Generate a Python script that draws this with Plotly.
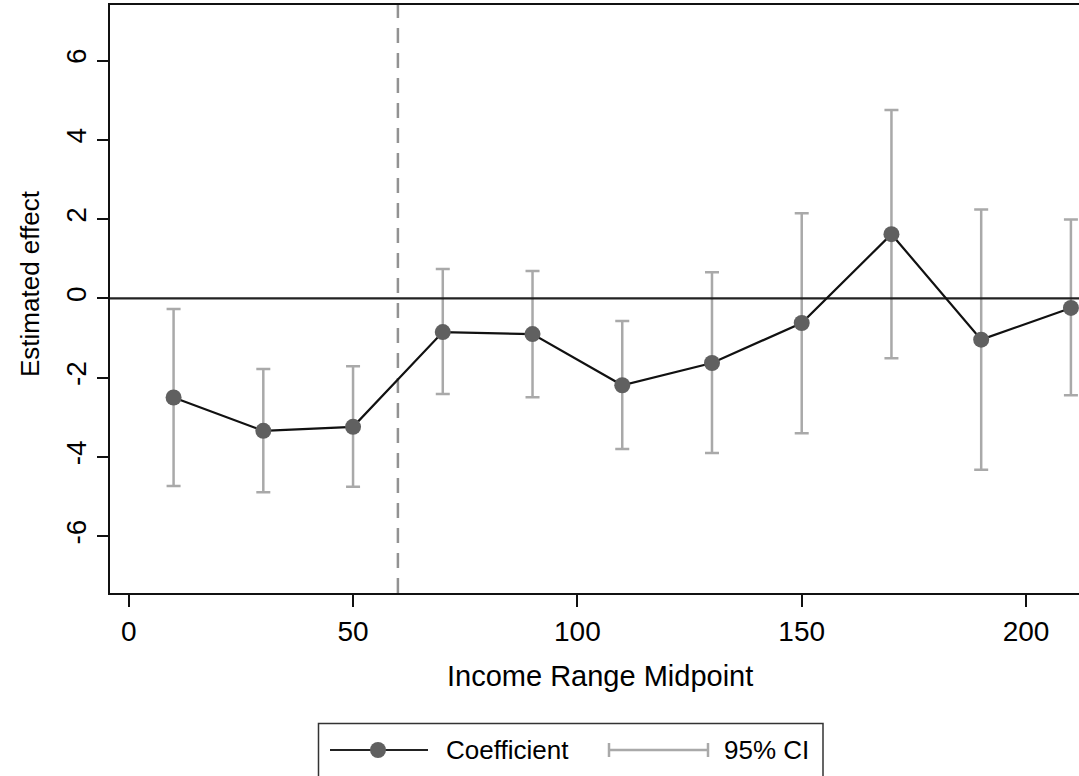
import plotly.graph_objects as go

# ---- data ----
midpoints = [10, 30, 50, 70, 90, 110, 130, 150, 170, 190, 210]
coef = [-2.50, -3.34, -3.24, -0.85, -0.90, -2.19, -1.63, -0.62, 1.62, -1.04, -0.24]
ci_low = [-4.73, -4.89, -4.75, -2.41, -2.49, -3.80, -3.90, -3.40, -1.51, -4.32, -2.44]
ci_high = [-0.27, -1.78, -1.71, 0.74, 0.69, -0.57, 0.66, 2.15, 4.75, 2.24, 1.99]
cutoff = 60
x_ticks = [0, 50, 100, 150, 200]
y_ticks = [-6, -4, -2, 0, 2, 4, 6]
y_tick_labels = ["-6", "-4", "-2", "0", "2", "4", "6"]
x_range = [-4.17, 211.8]
y_range = [-7.43, 7.40]

W, H = 1079, 776
L, T, R, B = 110, 5, 0, 183
pw, ph = W - L - R, H - T - B
FONT = "Liberation Sans, Arial, sans-serif"


def px(xp):
    return (xp - L) / pw


def py(yp):
    return (H - B - yp) / ph


fig = go.Figure()

# CI error bars
fig.add_trace(go.Scatter(
    x=midpoints, y=coef, mode="markers",
    marker=dict(size=1, color="rgba(0,0,0,0)"),
    error_y=dict(type="data", symmetric=False,
                 array=[h - c for h, c in zip(ci_high, coef)],
                 arrayminus=[c - l for c, l in zip(coef, ci_low)],
                 color="#a9a9a9", thickness=2.5, width=7),
    showlegend=False, hoverinfo="skip"))

# zero reference line
fig.add_trace(go.Scatter(x=x_range, y=[0, 0], mode="lines",
                         line=dict(color="#222222", width=2.2),
                         showlegend=False, hoverinfo="skip"))

# coefficients
fig.add_trace(go.Scatter(
    x=midpoints, y=coef, mode="lines+markers",
    line=dict(color="#111111", width=2.2),
    marker=dict(size=16, color="#606060"),
    showlegend=False, cliponaxis=True))

# dashed cutoff line
fig.add_shape(type="line", xref="x", yref="paper", x0=cutoff, x1=cutoff, y0=0, y1=1,
              line=dict(color="#929292", width=2.5, dash="15px,10px"), layer="below")

# ---- manual legend ----
ly = 750
fig.add_shape(type="rect", xref="paper", yref="paper",
              x0=px(318.5), x1=px(823), y0=py(723.5), y1=py(790),
              line=dict(color="#333333", width=1.5), fillcolor="white")
fig.add_shape(type="line", xref="paper", yref="paper",
              x0=px(330), x1=px(428), y0=py(ly), y1=py(ly),
              line=dict(color="#222222", width=2.2))
fig.add_shape(type="circle", xref="paper", yref="paper",
              x0=px(370), x1=px(386), y0=py(ly - 8), y1=py(ly + 8),
              line=dict(color="#606060", width=0), fillcolor="#606060")
fig.add_shape(type="line", xref="paper", yref="paper",
              x0=px(609), x1=px(708), y0=py(ly), y1=py(ly),
              line=dict(color="#a9a9a9", width=2.5))
for xc in (609, 708):
    fig.add_shape(type="line", xref="paper", yref="paper",
                  x0=px(xc), x1=px(xc), y0=py(ly - 7), y1=py(ly + 7),
                  line=dict(color="#a9a9a9", width=2.5))
fig.add_annotation(xref="paper", yref="paper", x=px(444), y=py(ly), text="Coefficient",
                   showarrow=False, xanchor="left", yanchor="middle",
                   font=dict(size=26, color="black", family=FONT))
fig.add_annotation(xref="paper", yref="paper", x=px(722), y=py(ly), text="95% CI",
                   showarrow=False, xanchor="left", yanchor="middle",
                   font=dict(size=26, color="black", family=FONT))

# axis titles
fig.add_annotation(xref="paper", yref="paper", x=px(600), y=py(676), text="Income Range Midpoint",
                   showarrow=False, xanchor="center", yanchor="middle",
                   font=dict(size=29, color="black", family=FONT))
fig.add_annotation(xref="paper", yref="paper", x=px(30), y=py(284), text="Estimated effect",
                   showarrow=False, xanchor="center", yanchor="middle", textangle=-90,
                   font=dict(size=26, color="black", family=FONT))

fig.update_layout(
    width=W, height=H,
    margin=dict(l=L, r=R, t=T, b=B),
    paper_bgcolor="white", plot_bgcolor="white",
    font=dict(family=FONT, size=28, color="black"),
    showlegend=False,
    xaxis=dict(range=x_range, tickvals=x_ticks, showgrid=False, zeroline=False,
               showline=True, linecolor="#111111", linewidth=2, mirror=True,
               ticks="outside", ticklen=12, tickwidth=2, tickcolor="#111111",
               tickfont=dict(size=28, color="black")),
    yaxis=dict(range=y_range, tickvals=y_ticks, ticktext=y_tick_labels,
               showgrid=False, zeroline=False,
               showline=True, linecolor="#111111", linewidth=2,
               ticks="outside", ticklen=11, tickwidth=2, tickcolor="#111111",
               tickangle=-90, tickfont=dict(size=28, color="black")),
)

fig.write_html("out.html")
